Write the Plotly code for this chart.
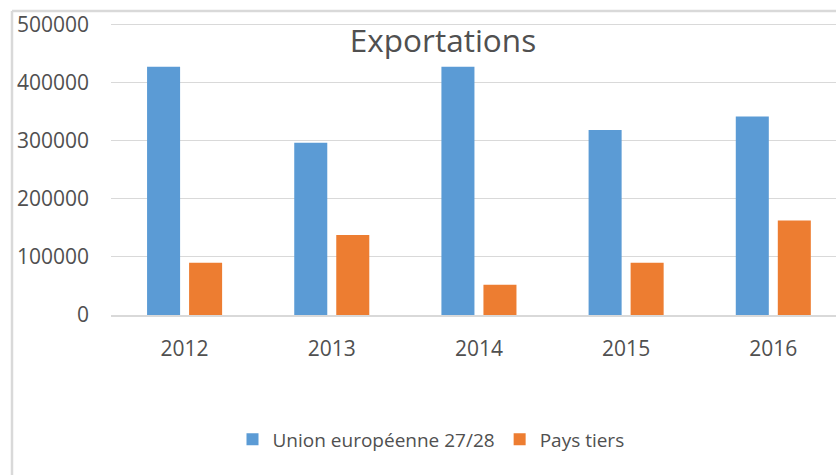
import plotly.graph_objects as go

# Exportations par zone de destination
annees = ["2012", "2013", "2014", "2015", "2016"]
union_europeenne = [428000, 297000, 428000, 319000, 342000]
pays_tiers = [90000, 138000, 52000, 90000, 163000]

W, H = 836, 475
L, R, T, B = 111, 0, 22, 159.5
plot_w = W - L - R
plot_h = H - T - B

BLUE = "#5B9BD5"
ORANGE = "#ED7D31"
GRID = "#D9D9D9"
TEXT = "#505050"
FONT = "Open Sans"


def px_x(px):
    return (px - L) / plot_w


def px_y(py):
    return (H - B - py) / plot_h


fig = go.Figure()
fig.add_trace(go.Bar(x=annees, y=union_europeenne, name="Union européenne 27/28",
                     marker=dict(color=BLUE, line=dict(width=0))))
fig.add_trace(go.Bar(x=annees, y=pays_tiers, name="Pays tiers",
                     marker=dict(color=ORANGE, line=dict(width=0))))

# chart frame (left and top edges)
frame = dict(type="line", xref="paper", yref="paper",
             line=dict(color=GRID, width=2.5), layer="below")
fig.add_shape(**frame, x0=px_x(12), x1=px_x(12), y0=px_y(11), y1=px_y(476))
fig.add_shape(**frame, x0=px_x(12), x1=px_x(840), y0=px_y(11), y1=px_y(11))

fig.update_layout(
    width=W, height=H,
    margin=dict(l=L, r=R, t=T, b=B, pad=0),
    paper_bgcolor="white", plot_bgcolor="white",
    font=dict(family=FONT, color=TEXT, size=20),
    barmode="group", bargap=0.429, bargroupgap=0.214,
    title=dict(text="Exportations", font=dict(size=31.5, color=TEXT, family=FONT),
               xref="container", yref="container", x=443 / W, xanchor="center",
               y=1 - 41 / H, yanchor="middle", pad=dict(t=0, b=0)),
    xaxis=dict(type="category", range=[-0.5, 4.426], showgrid=False,
               showline=True, linecolor=GRID, linewidth=2,
               ticks="", tickfont=dict(size=21, color=TEXT),
               ticklabelstandoff=14),
    yaxis=dict(range=[0, 505000], tickvals=[0, 100000, 200000, 300000, 400000, 500000],
               ticktext=["0", "100000", "200000", "300000", "400000", "500000"],
               showgrid=True, gridcolor=GRID, gridwidth=1, zeroline=False,
               showline=False, ticks="", tickfont=dict(size=21, color=TEXT),
               ticklabelstandoff=21),
    legend=dict(orientation="h", x=px_x(431), xanchor="center",
                y=px_y(440), yanchor="middle", font=dict(size=19, color=TEXT),
                itemwidth=30, bgcolor="rgba(0,0,0,0)"),
    showlegend=True,
)

fig.write_html("out.html")
